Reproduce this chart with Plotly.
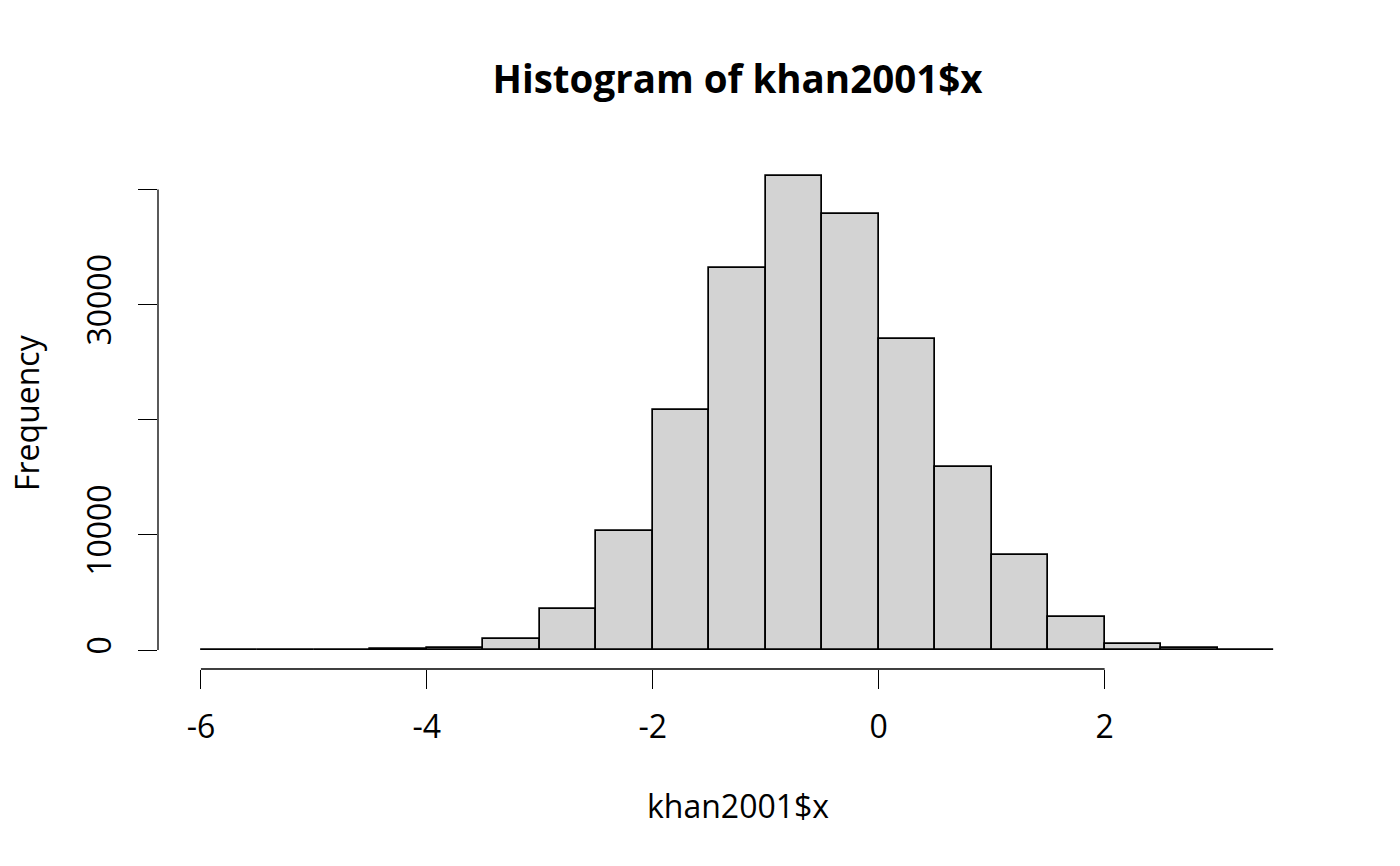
import plotly.graph_objects as go

bin_edges = [-6.0, -5.5, -5.0, -4.5, -4.0, -3.5, -3.0, -2.5, -2.0, -1.5, -1.0,
             -0.5, 0.0, 0.5, 1.0, 1.5, 2.0, 2.5, 3.0, 3.5]
counts = [5, 8, 20, 60, 150, 1000, 3560, 10330, 20840, 33220, 41170,
          37900, 27000, 15890, 8260, 2900, 560, 150, 15]
x_ticks = [-6, -4, -2, 0, 2]
y_ticks = [0, 10000, 20000, 30000, 40000]
y_tick_labels = ["0", "10000", "", "30000", ""]

centers = [(a + b) / 2 for a, b in zip(bin_edges[:-1], bin_edges[1:])]
widths = [b - a for a, b in zip(bin_edges[:-1], bin_edges[1:])]

FONT = "Open Sans"
AX = 32
OFF = 8  # page body margin

fig = go.Figure()
fig.add_trace(go.Bar(
    x=centers, y=counts, width=widths,
    marker=dict(color="#D3D3D3", line=dict(color="black", width=1.7)),
    showlegend=False, hoverinfo="x+y",
))

xmin, xmax = bin_edges[0], bin_edges[-1]
xpad = (xmax - xmin) * 0.04
ymax = max(counts)
ypad = ymax * 0.04

L, R, T, B = 158 - OFF, 1400 - 1317 + OFF, 157 - OFF, 866 - 669 + OFF

fig.update_layout(
    width=1400, height=866,
    margin=dict(l=L, r=R, t=T, b=B),
    paper_bgcolor="white", plot_bgcolor="white",
    font=dict(family=FONT, color="black", size=AX),
    bargap=0,
    title=dict(text="<b>Histogram of khan2001$x</b>", x=0.5, xref="paper",
               xanchor="center", y=1 - (80 - OFF) / 866, yanchor="middle",
               font=dict(family=FONT, size=38.5, color="black")),
    xaxis=dict(range=[xmin - xpad, xmax + xpad], tickvals=x_ticks,
               ticktext=[str(v) for v in x_ticks],
               ticks="outside", ticklen=19, tickwidth=1.3, tickcolor="black",
               showline=False, showgrid=False, zeroline=False,
               tickfont=dict(family=FONT, size=AX), ticklabelstandoff=11),
    yaxis=dict(range=[-ypad, ymax + ypad], tickvals=y_ticks,
               ticktext=y_tick_labels, tickangle=-90,
               ticks="outside", ticklen=19, tickwidth=1.3, tickcolor="black",
               showline=False, showgrid=False, zeroline=False,
               tickfont=dict(family=FONT, size=AX), ticklabelstandoff=14),
)

# axis lines spanning only the tick range (R style)
fig.add_shape(type="line", xref="x", yref="paper",
              x0=x_ticks[0], x1=x_ticks[-1], y0=0, y1=0,
              line=dict(color="black", width=1.3))
fig.add_shape(type="line", xref="paper", yref="y",
              x0=0, x1=0, y0=y_ticks[0], y1=y_ticks[-1],
              line=dict(color="black", width=1.3))

fig.add_annotation(text="khan2001$x", xref="paper", yref="paper",
                   x=0.5, y=0, yshift=-(805 - 669), showarrow=False,
                   xanchor="center", yanchor="middle",
                   font=dict(family=FONT, size=AX, color="black"))
fig.add_annotation(text="Frequency", xref="paper", yref="paper",
                   x=0, y=0.5, xshift=-(158 - 26), showarrow=False,
                   textangle=-90, xanchor="center", yanchor="middle",
                   borderpad=0,
                   font=dict(family=FONT, size=AX, color="black"))

fig.write_html("out.html")
